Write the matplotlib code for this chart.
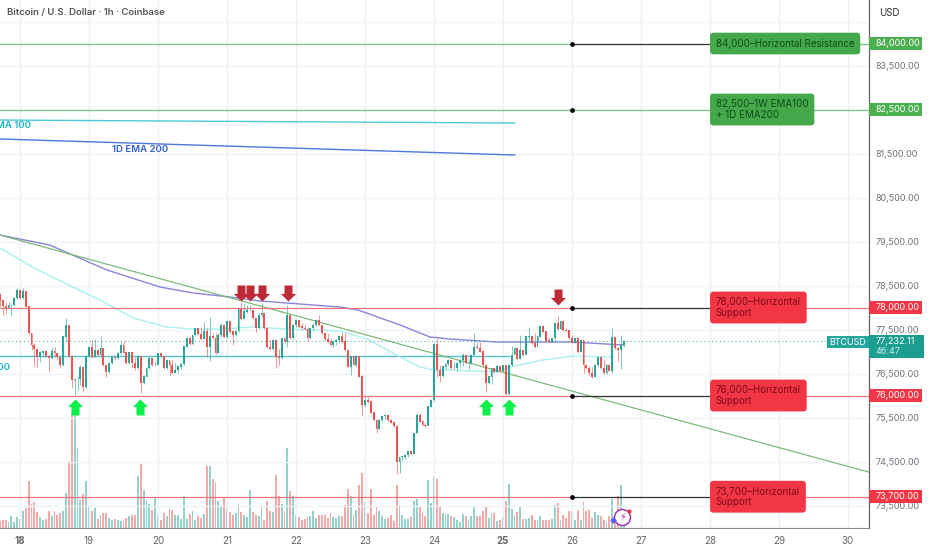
import numpy as np
import matplotlib
matplotlib.use("Agg")
import matplotlib.pyplot as plt
from matplotlib.patches import Rectangle

plt.rcParams['font.family'] = ['Inter', 'DejaVu Sans']

# hourly candles, first one is 7h before the 18th
first_hour = -7
closes = [
    78155,78034,77981,78057,78057,78208,78382,78208,78360,78019,
    77413,77147,77049,76867,76973,76996,76897,76844,77011,76958,
    76867,76693,77337,77602,76897,76352,76367,76367,76640,76185,
    76897,77094,76867,77019,76920,77072,76693,76541,76731,76867,
    76844,76958,77147,76973,76731,76973,76731,76617,76882,76276,
    76428,76617,76844,76693,76693,76958,76897,76617,76791,76693,
    76503,76579,76655,76708,77110,77299,77170,77375,77526,77397,
    77276,77450,77110,77352,77299,76958,77375,
    77602,77337,77678,77450,77375,77466,77981,77731,77905,77943,
    77943,77753,77526,77829,77867,77526,77094,77049,77261,76867,
    76844,77299,77223,77829,77299,77602,77716,77564,77526,77503,
    77299,77526,77602,77716,77602,77413,77276,77223,77147,77223,
    77261,77337,77223,77034,76655,76882,76693,76882,76428,75784,
    75882,75859,75609,75443,75231,75443,75534,75556,75443,75382,
    75306,74496,74594,74609,74647,74723,74670,75140,75556,75405,
    75329,75306,75746,75897,77170,76579,76443,76655,76708,76791,
    76617,76617,76731,76807,76920,76731,76731,76920,77094,77072,
    76996,76693,76276,76428,76617,76541,76670,76556,76678,76034,
    76693,76920,77072,76822,77034,76920,77337,77337,77185,77094,
    77337,77564,77450,77246,77223,77299,77640,77503,77678,77488,
    77473,77299,77200,77299,76996,77261,76693,76617,76503,76428,
    76693,76867,76617,76503,76693,76564,77322,77072,77034,77147,
    77232,
]
highs = [
    78337,78170,78132,78132,78094,78231,78435,78397,78435,78367,
    78034,77428,77185,77049,77011,77034,77011,76913,77072,77110,
    76973,76867,77352,77753,77602,76897,76382,76413,76693,76655,
    76920,77125,77276,77276,77049,77352,77072,76693,76746,76882,
    76897,76996,77223,77238,76973,76996,76996,76867,76920,76822,
    76465,76655,76867,76844,76769,76973,76973,76897,76807,76791,
    76807,76746,76670,76731,77125,77337,77352,77375,77564,77526,
    77549,77678,77526,77776,77413,77413,77413,
    77640,77564,77700,77678,77450,77488,78003,78132,78094,78057,
    78057,77943,77753,77867,78094,77867,77549,77276,77276,77223,
    77049,77314,77299,78057,77806,77625,77731,77716,77640,77602,
    77549,77541,77625,77731,77829,77602,77413,77413,77299,77246,
    77276,77360,77450,77413,76996,76897,76897,76897,76655,76465,
    75973,75973,75882,75632,75458,75458,75549,75572,75541,75458,
    75405,75329,74609,74624,74670,74746,74700,75155,75594,75594,
    75443,75405,75761,75912,77185,77299,76693,76670,76731,76822,
    76807,76769,76761,76837,76958,76867,76822,76943,77413,77223,
    77223,76996,76708,76443,76632,76617,76685,76655,76693,76556,
    76708,77125,77094,77049,77375,76996,77352,77549,77375,77413,
    77352,77579,77549,77450,77337,77314,77655,77814,77700,77678,
    77526,77473,77375,77314,77261,77276,77261,76693,76678,76655,
    76708,76882,76844,76807,76708,76640,77526,77337,77094,77375,
    77246,
]
lows = [
    78019,77829,77882,77981,77829,78034,78185,78185,78185,78003,
    77397,77034,76670,76655,76769,76867,76867,76541,76822,76867,
    76807,76617,76670,77223,76882,76163,76011,76125,76238,76087,
    76163,76867,76844,76867,76897,76867,76670,76428,76519,76716,
    76807,76822,76943,76958,76716,76716,76617,76579,76594,76064,
    76261,76413,76594,76670,76670,76731,76867,76594,76594,76443,
    76488,76564,76519,76594,76685,77094,77147,77147,77352,77375,
    77261,77276,76867,76791,77276,76943,76958,
    77337,77322,77299,77428,77147,77352,77450,77716,77731,77867,
    77928,77738,77450,77503,77791,77503,77072,77034,77034,76617,
    76693,76822,77200,77094,77284,77284,77549,77549,77511,77488,
    77246,77276,77488,77579,77587,77397,77246,77200,77125,77110,
    77155,77185,77200,77019,76640,76465,76670,76640,76413,75556,
    75746,75837,75594,75428,75140,75231,75397,75465,75428,75367,
    75291,74216,74246,74519,74556,74609,74655,74663,75125,75390,
    75314,75291,75367,75731,75867,76413,76299,76428,76602,76678,
    76602,76594,76564,76640,76678,76716,76610,76716,76905,77049,
    76981,76678,76087,76261,76261,76519,76526,76541,76526,76011,
    76019,76678,76943,76807,76829,76905,76981,77208,77170,77079,
    77208,77337,77435,77231,77208,77208,77231,77488,77488,77473,
    77458,77284,77185,77185,76973,77019,76503,76594,76466,76390,
    76526,76640,76594,76488,76488,76549,76503,77049,76791,76594,
    77110,
]
volumes = [
    20,25,25,18,35,18,33,28,52,60,140,72,78,48,32,25,28,52,35,50,
    38,45,52,105,200,345,345,240,85,102,140,65,52,60,28,38,46,46,30,25,
    28,24,22,20,30,35,40,38,155,192,115,85,72,55,92,38,25,45,35,58,
    55,38,38,27,95,27,42,50,25,36,30,42,185,185,147,138,82,62,90,58,
    48,38,45,72,48,38,32,115,48,40,35,65,25,82,52,48,160,95,72,52,
    240,110,95,38,32,25,28,32,35,50,30,38,
    38,38,30,45,32,30,35,37,68,118,95,40,55,128,165,78,45,118,40,65,
    52,35,28,30,40,22,130,68,40,28,28,32,80,88,65,45,35,145,75,150,
    148,62,45,42,42,35,32,25,18,42,35,25,35,62,35,35,52,65,30,45,
    45,22,25,32,80,132,58,35,48,65,28,28,30,40,25,25,35,25,25,25,
    28,68,75,25,40,30,50,50,25,55,25,78,52,55,30,48,38,35,25,18,
    35,88,30,95,128,20,
]

# moving averages, read at a few spots (day, price)
ema200_days = [17.71,18.43,19.26,20.03,20.51,21.04,21.48,22.64,22.90,23.51,23.94,24.23,24.91,26.01,26.74]
ema200_vals = [79648,79420,78852,78466,78330,78239,78148,78011,77943,77602,77330,77284,77216,77216,77148]
ema100_days = [17.71,18.26,19.16,19.64,20.13,20.51,20.90,21.38,21.87,22.64,23.03,23.51,23.80,23.99,24.19,24.91,25.10,25.58,26.01,26.59]
ema100_vals = [79352,78852,78170,77761,77557,77511,77511,77557,77511,77466,77284,76875,76648,76580,76580,76534,76648,76807,76898,76875]

trend_days = [17.71, 30.30]
trend_vals = [79648, 74260]
w_ema_days = [17.71, 25.17]
w_ema100 = [82261, 82193]
d_ema200 = [81830, 81466]
flat_days = [17.71, 25.09]
d_ema100 = [76900, 76900]

# horizontal levels
res_levels = [84000, 82500]
res_texts = ["84,000–Horizontal Resistance", "82,500–1W EMA100\n+ 1D EMA200"]
sup_levels = [78000, 76000, 73700]
sup_texts = ["78,000–Horizontal\nSupport", "76,000–Horizontal\nSupport", "73,700–Horizontal\nSupport"]

sell_days = [21.20, 21.33, 21.51, 21.88]
sell_vals = [78330, 78330, 78330, 78330]
sell2_day = [25.79]
sell2_val = [78250]
buy_days = [18.79, 19.74, 24.75, 25.09]
buy_vals = [75739, 75739, 75739, 75739]

price_ticks = [83500,82500,81500,80500,79500,78500,77500,76500,75500,74500,73500]
grid_prices = [84500] + price_ticks
day_ticks = [18,19,20,21,22,23,24,25,26,27,28,29,30]
bold_days = [18,25]
last_price = 77232.11

GREEN = '#26a69a'
RED = '#ef5350'

closes = np.array(closes)
highs = np.array(highs)
lows = np.array(lows)
volumes = np.array(volumes)
hours = np.arange(len(closes)) + first_hour
days = 18 + hours / 24
opens = np.r_[78300, closes[:-1]]
up = closes >= opens

fig = plt.figure(figsize=(9.32, 5.5), dpi=100, facecolor='white')
ax = fig.add_axes([0, 22/550, 869/932, 528/550])
vax = ax.twinx()
ax.set_zorder(vax.get_zorder() + 1)
ax.patch.set_visible(False)
vax.set_ylim(0, 528*3)
vax.axis('off')

ax.set_xlim(17.71, 30.304)
ax.set_ylim(72989, 84989)
side = ax.get_yaxis_transform()

# grid
for p in grid_prices:
    ax.axhline(p, color='#eff2f6', lw=1, zorder=0)
for d in day_ticks:
    ax.axvline(d, color='#eaf0f5', lw=1, zorder=0)

# volume
vax.bar(days, volumes, width=0.027, color=np.where(up, '#92d2cc', '#f7a9a7'), zorder=1)

# ma lines
ax.plot(w_ema_days, w_ema100, color='#4cc9d6', lw=1, zorder=2)
ax.plot(w_ema_days, d_ema200, color='#4f78dc', lw=1, zorder=2)
ax.plot(flat_days, d_ema100, color='#55c3cf', lw=1, zorder=2)
ax.plot(ema200_days, ema200_vals, color='#8a84dc', lw=1, zorder=2)
ax.plot(ema100_days, ema100_vals, color='#a9f0f0', lw=1, zorder=2)
ax.plot(trend_days, trend_vals, color='#7dbb79', lw=0.9, zorder=2)
ax.axhline(last_price, xmax=827/869, color=GREEN, lw=0.7, ls=(0, (1, 3)), zorder=2)

# candles
cols = np.where(up, GREEN, RED)
ax.vlines(days, lows, highs, colors=cols, lw=0.5, alpha=0.85, zorder=3)
ax.bar(days, np.abs(closes - opens) + 8, bottom=np.minimum(opens, closes), width=0.027, color=cols, zorder=3)

# levels with callouts
for lvl in res_levels:
    ax.plot([17.71, 26], [lvl, lvl], color='#7cc47f', lw=0.9, zorder=4)
    ax.plot([28, 30.304], [lvl, lvl], color='#7cc47f', lw=0.9, zorder=4)
for lvl in sup_levels:
    ax.plot([17.71, 26], [lvl, lvl], color='#f4747e', lw=0.9, zorder=4)
    ax.plot([28, 30.304], [lvl, lvl], color='#f4747e', lw=0.9, zorder=4)
for lvl, txt in zip(res_levels + sup_levels, res_texts + sup_texts):
    is_res = lvl in res_levels
    col = '#7cc47f' if (lvl == 82500) else '#333333'
    ax.plot([26, 28], [lvl, lvl], color=col, lw=0.9, zorder=4)
    ax.plot([26], [lvl], 'o', color='black', ms=2.4, zorder=5)
    ax.text(28.085, lvl, txt, ha='left', va='center', fontsize=7, linespacing=1.02,
            color='#0d4d18' if is_res else '#7c0a1c', zorder=6,
            bbox=dict(boxstyle='round,pad=0.6,rounding_size=0.35',
                      fc='#45a84b' if is_res else '#f23645', ec='none'))
    ax.add_patch(Rectangle((1.0, lvl-148), 53/869, 296, transform=side, clip_on=False, zorder=6,
                           fc='#4caf50' if is_res else '#f23645', ec='none'))
    ax.text(1.0075, lvl, f"{lvl:,.2f}", transform=side, ha='left', va='center',
            fontsize=6.5, color='white', zorder=7, clip_on=False)

# arrows
down_arrow = [(0,-1),(0.95,-0.05),(0.5,-0.05),(0.5,1),(-0.5,1),(-0.5,-0.05),(-0.95,-0.05)]
up_arrow = [(x,-y) for x,y in down_arrow]
ax.plot(sell_days, sell_vals, ls='none', marker=down_arrow, ms=11.5, color='#bf2a38', mew=0, zorder=7)
ax.plot(sell2_day, sell2_val, ls='none', marker=down_arrow, ms=11.5, color='#bf2a38', mew=0, zorder=7)
ax.plot(buy_days, buy_vals, ls='none', marker=up_arrow, ms=11.5, color='#08f24a', mew=0, zorder=7)

# ema labels, cut by the left edge like on the chart
ax.text(17.71+31/69, 82148, "1W EMA 100", ha='right', va='center', fontsize=6.9, color='#12b5cb', fontweight='semibold')
ax.text(17.71+10/69, 76648, "1W EMA 200", ha='right', va='center', fontsize=6.9, color='#12b5cb', fontweight='semibold')
ax.text(19.34, 81602, "1D EMA 200", ha='left', va='center', fontsize=6.9, color='#2f5fd0', fontweight='semibold')

# bolt badge
ax.plot([26.73], [73240], 'o', ms=11.5, mfc='white', mec='#9c27b0', mew=1, zorder=8)
ax.text(26.73, 73240, "\u26a1", ha='center', va='center', fontsize=7, color='#9c27b0', family='DejaVu Sans', zorder=9)
ax.plot([26.60], [73170], marker='D', ms=3.5, color='#5b5ff0', mew=0, zorder=9)
ax.plot([26.82], [73380], 'o', ms=3, color='#e53935', mew=0, zorder=9)

# axes and text
for s in ['top', 'left']:
    ax.spines[s].set_visible(False)
ax.spines['right'].set_color('#666666')
ax.spines['bottom'].set_color('#8a8a8a')
ax.spines['right'].set_linewidth(0.9)
ax.spines['bottom'].set_linewidth(0.8)

ax.yaxis.tick_right()
ax.set_yticks(price_ticks)
ax.set_yticklabels([f"{p:,.2f}" for p in price_ticks])
ax.tick_params(axis='y', length=0, pad=5, labelsize=6.5, labelcolor='#6f727c')
ax.set_xticks(day_ticks)
ax.set_xticklabels([str(d) for d in day_ticks])
ax.tick_params(axis='x', length=0, pad=6, labelsize=7, labelcolor='#666666')
for lab, d in zip(ax.get_xticklabels(), day_ticks):
    if d in bold_days:
        lab.set_fontweight('bold')

# price tag
ax.add_patch(Rectangle((1.0, 76852), 55/869, 523, transform=side, clip_on=False, zorder=6, fc='#1b9e90', ec='none'))
ax.text(1.0075, 77232, "77,232.11", transform=side, ha='left', va='center', fontsize=6.5, color='white', clip_on=False, zorder=7)
ax.text(1.0075, 76990, "46:47", transform=side, ha='left', va='center', fontsize=6.5, color='#cfeeea', clip_on=False, zorder=7)
ax.add_patch(Rectangle((827/869, 77080), 42/869, 272, transform=side, zorder=6, fc='#26a69a', ec='none'))
ax.text(848/869, 77216, "BTCUSD", transform=side, ha='center', va='center', fontsize=6.4, color='white', zorder=7)

fig.text(7/932, 1-13/550, "Bitcoin / U.S. Dollar · 1h · Coinbase", fontsize=6.9, color='#555555',
         fontweight='semibold', ha='left', va='center')
fig.text(879/932, 1-13/550, "USD", fontsize=7, color='#333333', ha='left', va='center')

fig.savefig("out.png", dpi=100)
